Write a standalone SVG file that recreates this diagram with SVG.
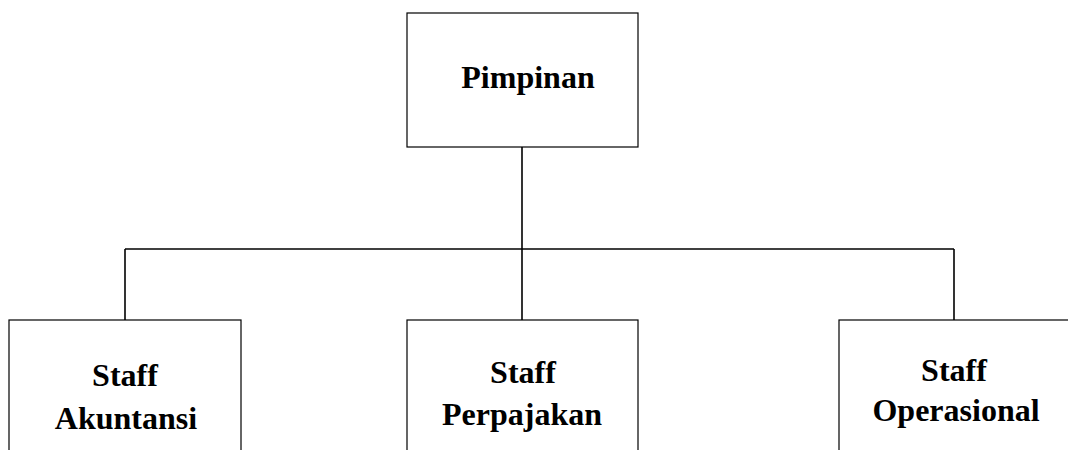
<svg xmlns="http://www.w3.org/2000/svg" width="1068" height="450" viewBox="0 0 1068 450">
<style>
.box{fill:#fff;stroke:#000;stroke-width:1.2}
.lbl{font-family:"Liberation Serif","Times New Roman",serif;font-weight:bold;font-size:32px;fill:#000;text-anchor:middle}
.con{stroke:#000;stroke-width:1.6;fill:none}
</style>
<rect width="1068" height="450" fill="#fff"/>
<g id="connectors">
<line class="con" x1="522" y1="147" x2="522" y2="249"/>
<line class="con" x1="125" y1="249" x2="954" y2="249"/>
<line class="con" x1="125" y1="249" x2="125" y2="320"/>
<line class="con" x1="522" y1="249" x2="522" y2="320"/>
<line class="con" x1="954" y1="249" x2="954" y2="320"/>
</g>
<g id="pimpinan">
<rect class="box" x="407" y="13" width="231" height="134"/>
<text class="lbl" x="528" y="88">Pimpinan</text>
</g>
<g id="staff-akuntansi">
<rect class="box" x="9" y="320" width="232" height="160"/>
<text class="lbl" x="125" y="386">Staff</text>
<text class="lbl" x="126" y="429">Akuntansi</text>
</g>
<g id="staff-perpajakan">
<rect class="box" x="407" y="320" width="231" height="160"/>
<text class="lbl" x="523" y="383">Staff</text>
<text class="lbl" x="522" y="425">Perpajakan</text>
</g>
<g id="staff-operasional">
<rect class="box" x="839" y="320" width="240" height="160"/>
<text class="lbl" x="954" y="381">Staff</text>
<text class="lbl" x="956" y="421">Operasional</text>
</g>
</svg>
